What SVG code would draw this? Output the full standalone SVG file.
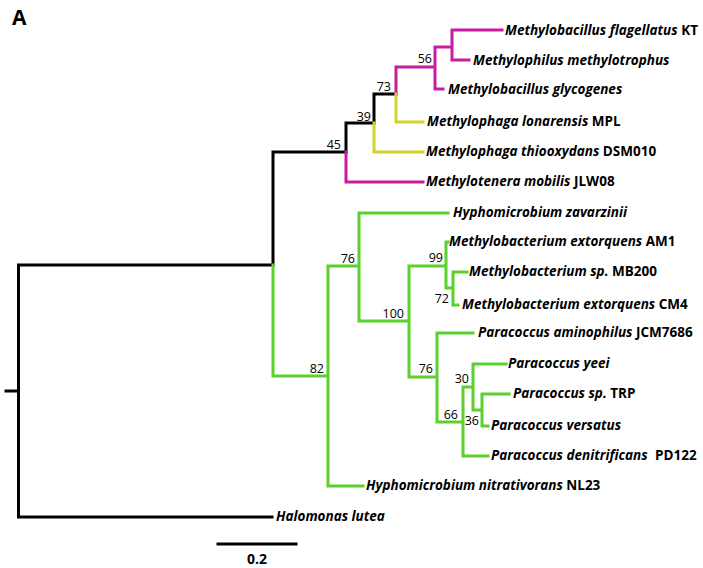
<svg xmlns="http://www.w3.org/2000/svg" width="703" height="568" viewBox="0 0 703 568">
<style>
.b{fill:none;stroke-width:3;stroke-linecap:square;stroke-linejoin:miter}
.k{stroke:#000}
.m{stroke:#c81ca2}
.y{stroke:#d4d22c}
.g{stroke:#5ad22b}
.lab{font-family:"Open Sans",Lato,"Liberation Sans",sans-serif;font-size:13.5px;font-weight:bold;fill:#000}
.lab .i{font-style:italic}
.bs{font-family:"Open Sans",Lato,"Liberation Sans",sans-serif;font-size:12.5px;fill:#000;text-anchor:end}
</style>
<rect width="703" height="568" fill="#fff"/>
<text x="12" y="25" font-family="'Open Sans','Liberation Sans',Arial,sans-serif" font-size="21" font-weight="bold">A</text>
<g id="connectors">
<path class="b k" d="M6 391H18.5M18.5 265V517M18.5 265H273M18.5 517H272M273 265V152H346M346 152V123H374M374 123V94H396"/>
<path class="b m" d="M346 152V182H423M396 94V67H435M435 47V89H443M435 47H452M452 30V60M452 30H502M452 60H469"/>
<path class="b y" d="M396 94V122H423M374 123V152H423"/>
<path class="b g" d="M273 265V376H328M328 266V486H363M328 266H359M359 213V321H409M359 213H448M409 266V377H437M409 266H446M446 242V288H453M446 242H448M453 272V305H458M453 272H467M437 333V422H463M437 333H473M463 387V456H488M463 387H473M473 364V410H482M473 364H506M482 394V426H488M482 394H509"/>
</g>
<g id="bootstrap">
<text class="bs" x="432" y="63">56</text>
<text class="bs" x="391" y="91">73</text>
<text class="bs" x="371" y="121">39</text>
<text class="bs" x="341" y="149">45</text>
<text class="bs" x="355" y="263">76</text>
<text class="bs" x="443" y="262">99</text>
<text class="bs" x="404" y="318">100</text>
<text class="bs" x="449" y="303">72</text>
<text class="bs" x="324" y="373">82</text>
<text class="bs" x="433" y="373">76</text>
<text class="bs" x="458" y="419">66</text>
<text class="bs" x="469" y="383">30</text>
<text class="bs" x="479" y="425">36</text>
</g>
<g id="n-kt"><text class="lab" x="505" y="34.5"><tspan class="i">Methylobacillus flagellatus</tspan> KT</text></g>
<g id="n-mmeth"><text class="lab" x="473" y="64.5"><tspan class="i">Methylophilus methylotrophus</tspan></text></g>
<g id="n-mglyc"><text class="lab" x="448" y="94"><tspan class="i">Methylobacillus glycogenes</tspan></text></g>
<g id="n-mlon"><text class="lab" x="427" y="126"><tspan class="i">Methylophaga lonarensis</tspan> MPL</text></g>
<g id="n-mthio"><text class="lab" x="426" y="156"><tspan class="i">Methylophaga thiooxydans</tspan> DSM010</text></g>
<g id="n-mmob"><text class="lab" x="426" y="186"><tspan class="i">Methylotenera mobilis</tspan> JLW08</text></g>
<g id="n-hzav"><text class="lab" x="453" y="217"><tspan class="i">Hyphomicrobium zavarzinii</tspan></text></g>
<g id="n-am1"><text class="lab" x="449" y="246"><tspan class="i">Methylobacterium extorquens</tspan> AM1</text></g>
<g id="n-mb200"><text class="lab" x="469" y="276"><tspan class="i">Methylobacterium sp.</tspan> MB200</text></g>
<g id="n-cm4"><text class="lab" x="462" y="309"><tspan class="i">Methylobacterium extorquens</tspan> CM4</text></g>
<g id="n-pamin"><text class="lab" x="478" y="337"><tspan class="i">Paracoccus aminophilus</tspan> JCM7686</text></g>
<g id="n-pyeei"><text class="lab" x="508" y="368"><tspan class="i">Paracoccus yeei</tspan></text></g>
<g id="n-ptrp"><text class="lab" x="513" y="398"><tspan class="i">Paracoccus sp.</tspan> TRP</text></g>
<g id="n-pvers"><text class="lab" x="491" y="430"><tspan class="i">Paracoccus versatus</tspan></text></g>
<g id="n-pden"><text class="lab" x="491" y="460"><tspan class="i">Paracoccus denitrificans</tspan> <tspan dx="4">PD122</tspan></text></g>
<g id="n-hnit"><text class="lab" x="366" y="490"><tspan class="i">Hyphomicrobium nitrativorans</tspan> NL23</text></g>
<g id="n-halo"><text class="lab" x="276" y="521"><tspan class="i">Halomonas lutea</tspan></text></g>
<g id="scale">
<path class="b k" d="M218 544H296"/>
<text x="257" y="564" text-anchor="middle" font-family="'Open Sans',Lato,'Liberation Sans',sans-serif" font-size="14" font-weight="bold">0.2</text>
</g>
</svg>
